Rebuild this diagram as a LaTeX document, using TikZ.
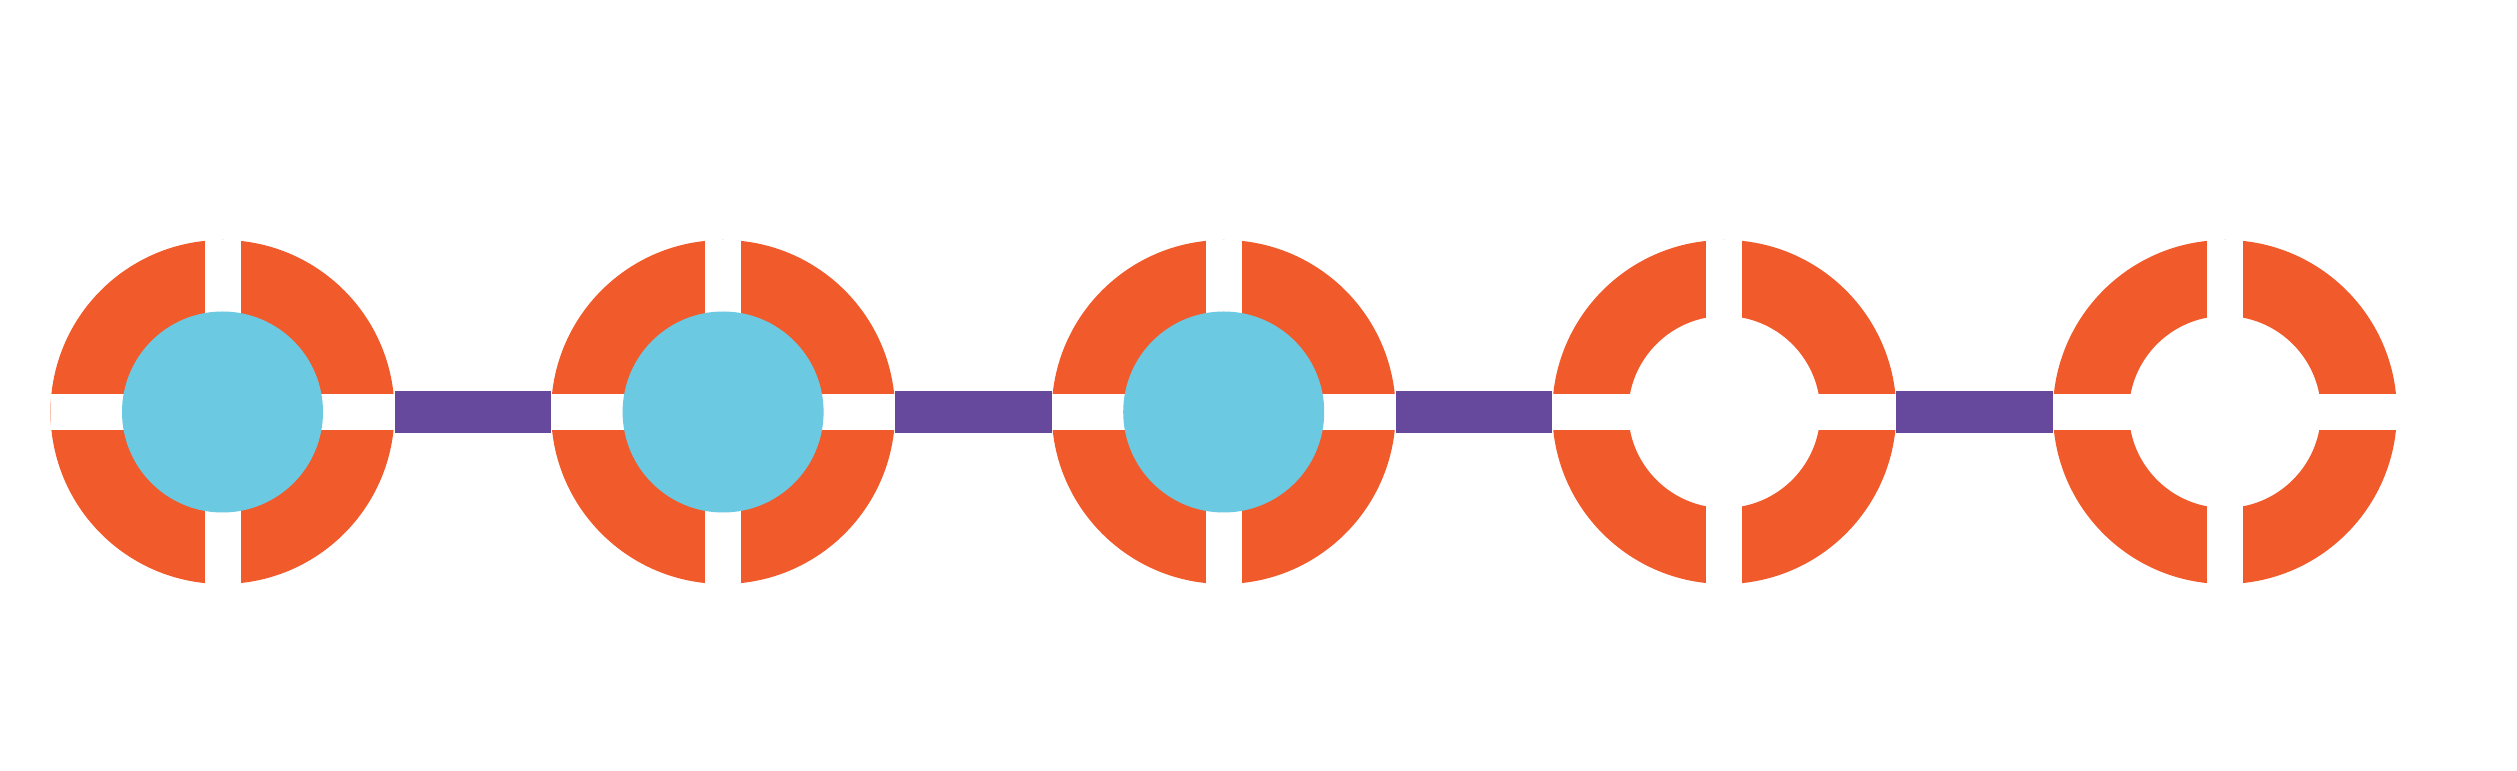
\documentclass[tikz,border=0pt]{standalone}
\usepackage{tikz}
\usetikzlibrary{positioning}
\definecolor{ringorange}{RGB}{241,90,43}
\definecolor{chipblue}{RGB}{107,201,225}
\definecolor{linkpurple}{RGB}{102,73,156}

\begin{document}
\begin{tikzpicture}[
    station/.style={circle, draw=ringorange, line width=0.76cm, inner sep=0pt, outer sep=0.38cm, minimum size=2.68cm},
    chip/.style={circle, fill=chipblue, inner sep=0pt, minimum size=2.01cm},
    gapline/.style={white, line width=0.36cm},
    link/.style={linkpurple, line width=0.413cm}
]

\useasboundingbox (0,0) rectangle (25.17,7.71);

% Stations (orange rings)
\foreach \i in {0,...,4} {
    \pgfmathsetmacro{\xpos}{2.225 + \i * 5.006}
    \node[station] (station\i) at (\xpos, 3.59) {};
}

% White cuts through each ring
\foreach \i in {0,...,4} {
    \draw[gapline] (station\i.north) -- (station\i.south);
    \draw[gapline] (station\i.west) -- (station\i.east);
}

% Links between stations
\foreach \i [evaluate=\i as \j using int(\i+1)] in {0,...,3} {
    \draw[link] (station\i.east) -- (station\j.west);
}

% Filled stations
\foreach \i in {0,...,4} {
    \ifnum\i<3
        \node[chip] (chip\i) at (station\i) {};
    \fi
}

\end{tikzpicture}
\end{document}
